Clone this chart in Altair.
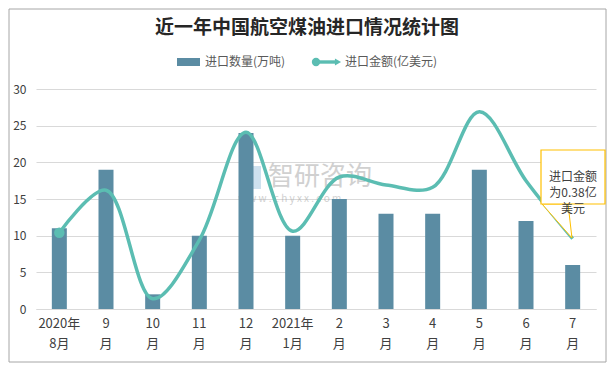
import altair as alt
import pandas as pd

months = ["2020年|8月", "9|月", "10|月", "11|月", "12|月", "2021年|1月",
          "2|月", "3|月", "4|月", "5|月", "6|月", "7|月"]
volume = [11, 19, 2, 10, 24, 10, 15, 13, 13, 19, 12, 6]
amount = [10.4, 16.2, 1.4, 9.4, 24.1, 10.6, 18.0, 16.9, 16.6, 26.9, 17.5, 9.6]

df = pd.DataFrame({"month": months, "volume": volume, "amount": amount})
FONT = "Noto Sans CJK SC"
BAR = "#5b8ca3"
LINE = "#5bbdb2"

xaxis = alt.Axis(labelExpr="split(datum.value, '|')", labelAngle=0,
                 labelFont=FONT, labelFontSize=13, labelColor="#404040",
                 labelLineHeight=20, labelPadding=8, ticks=False,
                 domainColor="#d9d9d9", domainWidth=1, grid=False)
yaxis = alt.Axis(values=[0, 5, 10, 15, 20, 25, 30], labelFont=FONT,
                 labelFontSize=12, labelColor="#404040", ticks=False,
                 domain=False, gridColor="#d9d9d9", labelPadding=10,
                 labelOverlap=False)
xscale = alt.Scale(paddingInner=0, paddingOuter=0)
yscale = alt.Scale(domain=[0, 30])

def X():
    return alt.X("month:N", sort=months, title=None, scale=xscale, axis=xaxis)

def Y(f):
    return alt.Y(f + ":Q", title=None, scale=yscale, axis=yaxis)

base = alt.Chart(df)
bars = base.mark_bar(size=15, color=BAR).encode(x=X(), y=Y("volume"))
line = base.mark_line(color=LINE, strokeWidth=3.5, interpolate="catmull-rom").encode(
    x=X(), y=Y("amount"))
first = base.transform_filter(alt.datum.month == months[0]).mark_circle(
    size=110, color=LINE, opacity=1).encode(x=X(), y=Y("amount"))

one = alt.Chart(pd.DataFrame({"k": [0]}))

# outer border
border = one.mark_rect(fill="transparent", stroke="#a6a6a6", strokeWidth=1).encode(
    x=alt.value(-27), x2=alt.value(570), y=alt.value(-80), y2=alt.value(273))

# title
title = one.mark_text(text="近一年中国航空煤油进口情况统计图", font=FONT, fontSize=19,
                      fontWeight="bold", color="#262626", align="center",
                      baseline="middle").encode(x=alt.value(271), y=alt.value(-61))

# legend
leg_sw = one.mark_rect(color=BAR).encode(
    x=alt.value(141), x2=alt.value(164), y=alt.value(-31), y2=alt.value(-23))
leg_t1 = one.mark_text(text="进口数量(万吨)", font=FONT, fontSize=12, color="#595959",
                       align="left", baseline="middle").encode(x=alt.value(169), y=alt.value(-27))
leg_ln = one.mark_rect(color=LINE).encode(
    x=alt.value(280), x2=alt.value(300), y=alt.value(-28.7), y2=alt.value(-25.3))
leg_dot = one.mark_circle(color=LINE, size=70, opacity=1).encode(x=alt.value(280), y=alt.value(-27))
leg_arr = one.mark_point(shape="triangle-right", filled=True, color=LINE, size=50, opacity=1).encode(
    x=alt.value(302), y=alt.value(-27))
leg_t2 = one.mark_text(text="进口金额(亿美元)", font=FONT, fontSize=12, color="#595959",
                       align="left", baseline="middle").encode(x=alt.value(309), y=alt.value(-27))

# watermark
wm1 = one.mark_text(text="智研咨询", font=FONT, fontSize=26, color="#999999", opacity=0.45,
                    align="left", baseline="middle").encode(x=alt.value(232), y=alt.value(88))
wm0 = one.mark_rect(color="#9ec3e0", opacity=0.5).encode(
    x=alt.value(203), x2=alt.value(225), y=alt.value(77), y2=alt.value(100))
wm2 = one.mark_text(text="w w w . c h y x x . c o m", font=FONT, fontSize=10, color="#999999",
                    opacity=0.45, align="left", baseline="middle").encode(x=alt.value(202), y=alt.value(110))

# callout
pointer = one.mark_point(shape="M -0.88 -1 L 0.65 -1 L 0.88 1 Z", filled=True,
                         fill="white", stroke="#ffc000", strokeWidth=1, size=1156,
                         opacity=1, fillOpacity=1, strokeOpacity=1).encode(
    x=alt.value(521), y=alt.value(132))
box = one.mark_rect(fill="white", stroke="#ffc000", strokeWidth=1.2).encode(
    x=alt.value(505), x2=alt.value(569), y=alt.value(61), y2=alt.value(115))
cal = one.mark_text(text=["进口金额", "为0.38亿", "美元"], font=FONT, fontSize=12,
                    color="#404040", align="center", baseline="middle", lineHeight=16).encode(
    x=alt.value(537), y=alt.value(88))

chart = alt.layer(border, wm0, wm1, wm2, bars, line, first, pointer, box, cal,
                  title, leg_sw, leg_t1, leg_ln, leg_dot, leg_arr, leg_t2).properties(
    width=560, height=220,
    autosize=alt.AutoSizeParams(type="none"),
    padding={"left": 28, "top": 81, "right": 11, "bottom": 54},
    background="white",
).configure_view(strokeWidth=0, stroke="transparent").configure_axisY(
    domain=False, ticks=False, grid=True, gridColor="#d9d9d9"
).configure_axisX(grid=False)

chart.save("out.html", embed_options={"renderer": "svg", "actions": False})
